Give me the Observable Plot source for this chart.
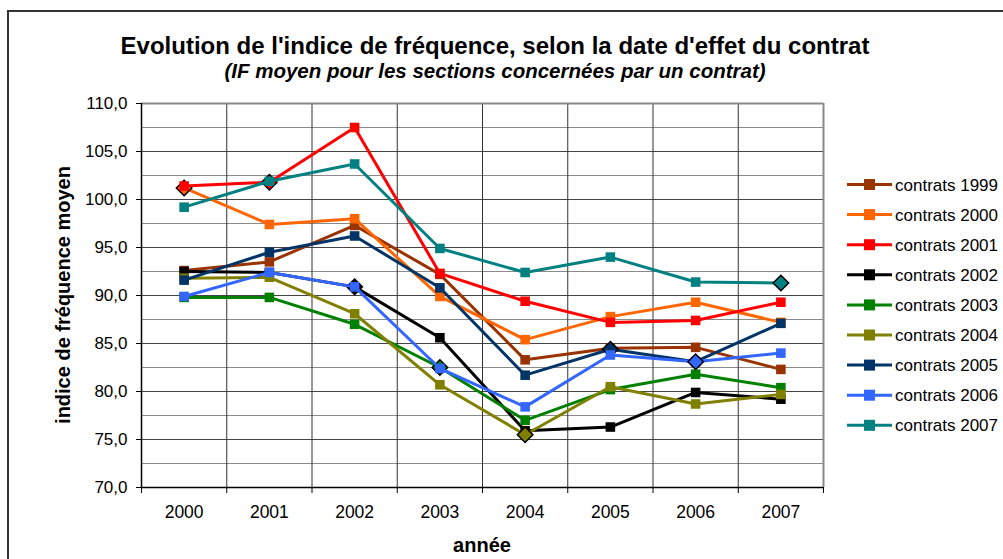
<!DOCTYPE html>
<html>
<head>
<meta charset="utf-8">
<script src="https://cdn.jsdelivr.net/npm/d3@7"></script>
<script src="https://cdn.jsdelivr.net/npm/@observablehq/plot@0.6"></script>
<style>
  html, body { margin: 0; padding: 0; background: #fff; overflow: hidden; }
  #wrap { position: relative; width: 1003px; height: 559px; overflow: hidden; font-family: "Liberation Sans", Arial, sans-serif; }
  #frame { position: absolute; left: 7px; top: 10px; width: 1200px; height: 800px; border: 2px solid #333; box-sizing: border-box; }
  #wrap svg { position: absolute; left: 0; top: 0; }
</style>
</head>
<body>
<div id="wrap"><div id="frame"></div></div>
<script>
// ---- data ----
const years = [2000, 2001, 2002, 2003, 2004, 2005, 2006, 2007];
const seriesNames = ["contrats 1999", "contrats 2000", "contrats 2001", "contrats 2002", "contrats 2003",
                     "contrats 2004", "contrats 2005", "contrats 2006", "contrats 2007"];
const seriesColors = ["#993300", "#FF6600", "#FF0000", "#000000", "#008000",
                      "#808000", "#003366", "#3366FF", "#008080"];
const c1999 = [92.6, 93.5, 97.3, 92.2, 83.3, 84.5, 84.6, 82.3];
const c2000 = [101.2, 97.4, 98.0, 89.9, 85.4, 87.8, 89.3, 87.2];
const c2001 = [101.4, 101.8, 107.5, 92.3, 89.4, 87.2, 87.4, 89.3];
const c2002 = [92.5, 92.4, 90.9, 85.6, 75.9, 76.3, 79.9, 79.2];
const c2003 = [89.8, 89.8, 87.0, 82.5, 77.0, 80.2, 81.8, 80.4];
const c2004 = [91.8, 91.9, 88.1, 80.7, 75.5, 80.5, 78.7, 79.7];
const c2005 = [91.6, 94.5, 96.2, 90.8, 81.7, 84.4, 83.1, 87.1];
const c2006 = [89.9, 92.4, 90.9, 82.4, 78.4, 83.8, 83.1, 84.0];
const c2007 = [99.2, 101.9, 103.7, 94.9, 92.4, 94.0, 91.4, 91.3];
const seriesValues = [c1999, c2000, c2001, c2002, c2003, c2004, c2005, c2006, c2007];
// year at which each series' point is drawn with a diamond marker
const highlightYears = [null, 2000, 2001, 2002, 2003, 2004, 2005, 2006, 2007];
const yTicks = [70, 75, 80, 85, 90, 95, 100, 105, 110];
const yMinor = [72.5, 77.5, 82.5, 87.5, 92.5, 97.5, 102.5, 107.5];
const titleText = "Evolution de l'indice de fréquence, selon la date d'effet du contrat";
const subtitleText = "(IF moyen pour les sections concernées par un contrat)";
const xTitle = "année";
const yTitle = "indice de fréquence moyen";

// ---- build ----
const FONT = '"Liberation Sans", Arial, sans-serif';
const bandEdges = d3.range(years.length + 1).map(i => years[0] - 0.5 + i);
const innerEdges = bandEdges.slice(1, -1);
const fmt = d => d.toFixed(1).replace(".", ",");

const marks = [
  Plot.ruleY(yMinor, {stroke: "#8a8a8a", strokeWidth: 1}),
  Plot.ruleY(yTicks.slice(1, -1), {stroke: "#444", strokeWidth: 1}),
  Plot.ruleX(innerEdges, {stroke: "#333", strokeWidth: 1}),
  Plot.ruleY([110], {stroke: "#888", strokeWidth: 2}),
  Plot.ruleX([bandEdges[bandEdges.length - 1]], {stroke: "#888", strokeWidth: 2}),
  Plot.ruleX([bandEdges[0]], {stroke: "#000", strokeWidth: 1.5}),
  Plot.ruleY([70], {stroke: "#000", strokeWidth: 1.5}),
  Plot.axisY({ticks: yTicks, tickSize: 5, tickPadding: 9, tickFormat: fmt, fontSize: 17, label: null, stroke: "#000"}),
  Plot.axisX({ticks: bandEdges, tickSize: 6, tickFormat: () => "", label: null, stroke: "#000"}),
  Plot.axisX({ticks: years, tickSize: 0, tickPadding: 18, tickFormat: d => String(d), fontSize: 17.5, label: null})
];

seriesNames.forEach((name, i) => {
  const rows = years.map((yr, j) => ({series: name, year: yr, value: seriesValues[i][j], hl: highlightYears[i] === yr}));
  const col = seriesColors[i];
  marks.push(Plot.lineY(rows, {x: "year", y: "value", stroke: col, strokeWidth: 3}));
  marks.push(Plot.dot(rows.filter(d => !d.hl), {x: "year", y: "value", symbol: "square", r: 5.4, fill: col}));
  marks.push(Plot.dot(rows.filter(d => d.hl), {x: "year", y: "value", symbol: "diamond2", r: 7, fill: col, stroke: "#000", strokeWidth: 1.5}));
});

const chart = Plot.plot({
  width: 1003,
  height: 559,
  marginLeft: 141,
  marginRight: 180,
  marginTop: 103,
  marginBottom: 72,
  style: {fontFamily: FONT, fontSize: "17px", color: "#000", background: "transparent", overflow: "visible"},
  x: {type: "linear", domain: [bandEdges[0], bandEdges[bandEdges.length - 1]]},
  y: {domain: [70, 110]},
  marks
});
document.getElementById("wrap").appendChild(chart);

// ---- overlay texts and legend ----
const ov = d3.select("#wrap").append("svg")
  .attr("width", 1003).attr("height", 559)
  .style("font-family", FONT);

ov.append("text").attr("x", 495).attr("y", 54).attr("text-anchor", "middle")
  .attr("font-size", 24).attr("font-weight", "bold").text(titleText);
ov.append("text").attr("x", 495).attr("y", 78).attr("text-anchor", "middle")
  .attr("font-size", 20.5).attr("font-weight", "bold").attr("font-style", "italic").text(subtitleText);
ov.append("text").attr("x", 482).attr("y", 552).attr("text-anchor", "middle")
  .attr("font-size", 20).attr("font-weight", "bold").text(xTitle);
ov.append("text").attr("transform", "translate(70,295) rotate(-90)").attr("text-anchor", "middle")
  .attr("font-size", 20).attr("font-weight", "bold").text(yTitle);

const lg = ov.append("g");
seriesNames.forEach((name, i) => {
  const y = 184.5 + i * 30.1;
  lg.append("line").attr("x1", 847).attr("x2", 892).attr("y1", y).attr("y2", y)
    .attr("stroke", seriesColors[i]).attr("stroke-width", 3);
  lg.append("rect").attr("x", 864).attr("y", y - 5.5).attr("width", 11).attr("height", 11)
    .attr("fill", seriesColors[i]);
  lg.append("text").attr("x", 895).attr("y", y + 6).attr("font-size", 17).text(name);
});
</script>
</body>
</html>
